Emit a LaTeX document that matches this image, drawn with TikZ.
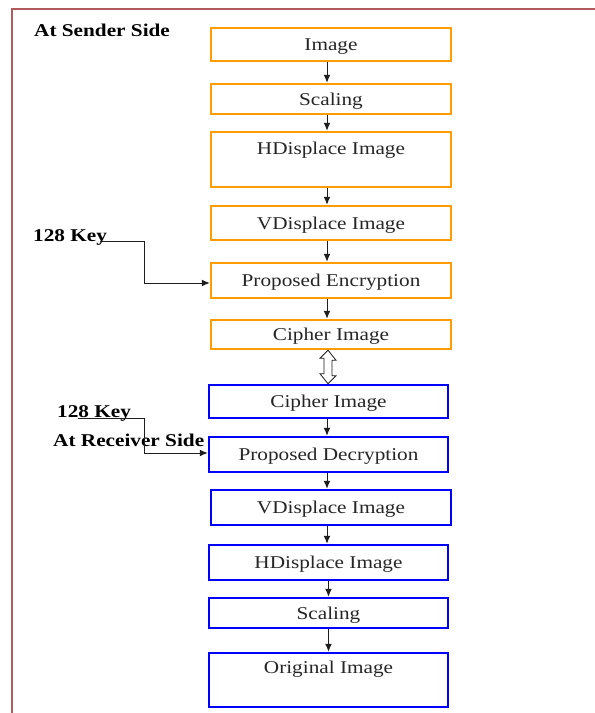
\documentclass[tikz,border=0pt]{standalone}
\usepackage{fontspec}
\setmainfont{Liberation Serif}[FakeStretch=1.18]
\usetikzlibrary{arrows.meta,calc}
\definecolor{framec}{RGB}{176,92,92}
\definecolor{orangec}{RGB}{255,156,0}
\definecolor{bluec}{RGB}{0,0,255}
\definecolor{linec}{RGB}{30,30,30}
\tikzset{
  boxtxt/.style={inner sep=2pt, font=\fontsize{18}{22}\selectfont, text=black!85, text height=15pt, text depth=3pt},
  basebox/.style={boxtxt, draw, line width=2.5pt, fill=white},
  obox/.style={basebox, draw=orangec, minimum width=240pt},
  bbox/.style={basebox, draw=bluec, minimum width=239pt},
  arr/.style={draw=linec, line width=1pt, -{Latex[length=8pt,width=7pt]}},
  lbl/.style={font=\fontsize{18}{22}\selectfont\bfseries, inner sep=0pt, text=black},
  hollow/.style={draw=linec, line width=0.8pt, fill=white, line join=miter}
}
\begin{document}
\begin{tikzpicture}[x=1pt,y=-1pt]
\useasboundingbox (0,0) rectangle (595,713);
\clip (0,0) rectangle (595,713);
\fill[white] (0,0) rectangle (595,713);
\draw[framec, line width=2.5pt] (12,9) rectangle (620,740);

% sender side
\node[obox, minimum height=33pt] (n1) at (331,44.5) {Image};
\node[obox, minimum height=30pt] (n2) at (331,99) {Scaling};
\node[obox, minimum height=55pt] (n3) at (331,159.5) {};
\node[boxtxt] (t3) at ([yshift=-17.5pt]n3.north) {HDisplace Image};
\node[obox, minimum height=34pt] (n4) at (331,223) {VDisplace Image};
\node[obox, minimum height=35pt] (n5) at (331,280.5) {Proposed Encryption};
\node[obox, minimum height=29pt] (n6) at (331,334.5) {Cipher Image};

% receiver side
\node[bbox, minimum height=33pt] (n7) at (328.5,401.5) {Cipher Image};
\node[bbox, minimum height=35pt] (n8) at (328.5,454.5) {Proposed Decryption};
\node[bbox, minimum height=35pt, minimum width=240pt] (n9) at (331,507.5) {VDisplace Image};
\node[bbox, minimum height=35pt] (n10) at (328.5,562.5) {HDisplace Image};
\node[bbox, minimum height=30pt] (n11) at (328.5,613) {Scaling};
\node[bbox, minimum height=54pt] (n12) at (328.5,680) {};
\node[boxtxt] (t12) at ([yshift=-16pt]n12.north) {Original Image};

% labels
\node[lbl, anchor=base west] (ls) at (34,36) {At Sender Side};
\node[lbl, anchor=base west] (k1) at (33,241) {128 Key};
\node[lbl, anchor=base west] (k2) at (57,417) {128 Key};
\node[lbl, anchor=base west] (lr) at (53,446) {At Receiver Side};

% vertical arrows
\foreach \a/\b in {n1/n2,n2/n3,n3/n4,n4/n5,n5/n6}{
  \draw[arr] ([xshift=-4pt]\a.south) -- ([xshift=-4pt]\b.north);
}
\draw[arr] ([xshift=-1.5pt]n7.south) -- ([xshift=-1.5pt]n8.north);
\draw[arr] ([xshift=-1.5pt]n8.south) -- ([xshift=-4pt]n9.north);
\draw[arr] ([xshift=-4pt]n9.south) -- ([xshift=-1.5pt]n10.north);
\draw[arr] (n10.south) -- (n11.north);
\draw[arr] (n11.south) -- (n12.north);

% key arrows
\coordinate (k1s) at (100,241);
\coordinate (k2s) at (78,418);
\draw[arr] (k1s) -- ++(44,0) |- ([yshift=-2.5pt]n5.west);
\draw[arr] (k2s) -- ++(66,0) |- ([yshift=1.5pt]n8.west);

% hollow double arrow between cipher images
\draw[hollow] ([xshift=-3pt]n6.south) -- ++(8,10) -- ++(-4,0) -- ++(0,15.5) -- ++(4,0)
  -- ([xshift=-0.5pt]n7.north) -- ++(-8,-10) -- ++(4,0) -- ++(0,-15.5) -- ++(-4,0) -- cycle;
\end{tikzpicture}
\end{document}
